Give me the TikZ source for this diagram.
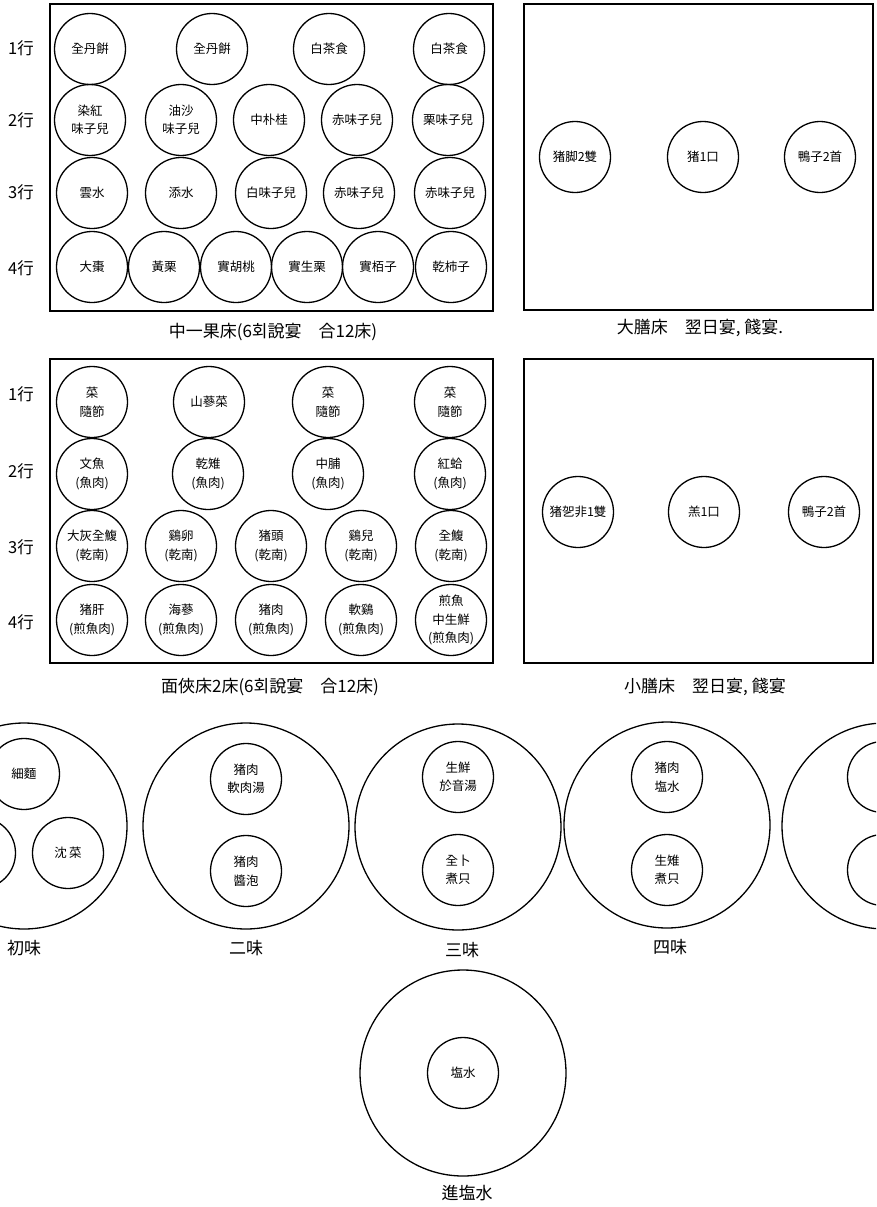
\documentclass[tikz,border=0pt]{standalone}
\usepackage{fontspec}
\setmainfont{Noto Sans CJK KR}
\usepackage{tikz}

\begin{document}
\begin{tikzpicture}[x=1pt,y=-1pt,line width=1.3pt,
    dish/.style={circle,draw,minimum size=71pt,inner sep=0pt,align=center,font=\fontsize{12.5}{18.5}\selectfont},
    bowl/.style={circle,draw,minimum size=206pt,inner sep=0pt},
    rowlbl/.style={font=\fontsize{16.5}{18}\selectfont},
    capt/.style={font=\fontsize{17}{20}\selectfont}]
  \useasboundingbox (0,0) rectangle (876,1207);
  \clip (0,0) rectangle (876,1207);

  % 中一果床
  \draw[line width=1.6pt] (50,4) rectangle (493,311);
  \node[rowlbl] (gr1) at (21,48) {1行};
  \node[rowlbl] (gr2) at (21,120) {2行};
  \node[rowlbl] (gr3) at (21,192) {3行};
  \node[rowlbl] (gr4) at (21,268) {4行};
  \node[dish] (g11) at (90,49) {全丹餠};
  \node[dish] (g12) at (212,49) {全丹餠};
  \node[dish] (g13) at (329,49) {白茶食};
  \node[dish] (g14) at (449,49) {白茶食};
  \node[dish] (g21) at (90,120) {染紅\\味子兒};
  \node[dish] (g22) at (181,120) {油沙\\味子兒};
  \node[dish] (g23) at (269,120) {中朴桂};
  \node[dish] (g24) at (357,120) {赤味子兒};
  \node[dish] (g25) at (448,120) {栗味子兒};
  \node[dish] (g31) at (92,193) {雲水};
  \node[dish] (g32) at (181,193) {添水};
  \node[dish] (g33) at (271,193) {白味子兒};
  \node[dish] (g34) at (359,193) {赤味子兒};
  \node[dish] (g35) at (450,193) {赤味子兒};
  \node[dish] (g41) at (92,267) {大棗};
  \node[dish] (g42) at (164,267) {黃栗};
  \node[dish] (g43) at (236,267) {實胡桃};
  \node[dish] (g44) at (307,267) {實生栗};
  \node[dish] (g45) at (378,267) {實栢子};
  \node[dish] (g46) at (451,267) {乾柿子};
  \node[capt] (gcap) at (273,332) {中一果床(6회說宴\quad 合12床)};

  % 大膳床
  \draw[line width=1.6pt] (524,4) rectangle (873,310);
  \node[dish] (dj1) at (575,157) {猪脚2雙};
  \node[dish] (dj2) at (703,157) {猪1口};
  \node[dish] (dj3) at (820,157) {鴨子2首};
  \node[capt] (djcap) at (700,328) {大膳床\quad 翌日宴, 餞宴.};

  % 面俠床
  \draw[line width=1.6pt] (50,359) rectangle (493,663);
  \node[rowlbl] (mr1) at (21,394) {1行};
  \node[rowlbl] (mr2) at (21,471) {2行};
  \node[rowlbl] (mr3) at (21,547) {3行};
  \node[rowlbl] (mr4) at (21,622) {4行};
  \node[dish] (m11) at (92,402) {菜\\隨節};
  \node[dish] (m12) at (209,402) {山蔘菜};
  \node[dish] (m13) at (328,402) {菜\\隨節};
  \node[dish] (m14) at (450,402) {菜\\隨節};
  \node[dish] (m21) at (92,474) {文魚\\(魚肉)};
  \node[dish] (m22) at (208,474) {乾雉\\(魚肉)};
  \node[dish] (m23) at (328,474) {中脯\\(魚肉)};
  \node[dish] (m24) at (450,474) {紅蛤\\(魚肉)};
  \node[dish] (m31) at (92,546) {大灰全鰒\\(乾南)};
  \node[dish] (m32) at (181,546) {鷄卵\\(乾南)};
  \node[dish] (m33) at (271,546) {猪頭\\(乾南)};
  \node[dish] (m34) at (361,546) {鷄兒\\(乾南)};
  \node[dish] (m35) at (451,546) {全鰒\\(乾南)};
  \node[dish] (m41) at (92,620) {猪肝\\(煎魚肉)};
  \node[dish] (m42) at (181,620) {海蔘\\(煎魚肉)};
  \node[dish] (m43) at (271,620) {猪肉\\(煎魚肉)};
  \node[dish] (m44) at (361,620) {軟鷄\\(煎魚肉)};
  \node[dish] (m45) at (451,620) {煎魚\\中生鮮\\(煎魚肉)};
  \node[capt] (mcap) at (270,687) {面俠床2床(6회說宴\quad 合12床)};

  % 小膳床
  \draw[line width=1.6pt] (524,359) rectangle (873,663);
  \node[dish] (sj1) at (578,512) {猪乫非1雙};
  \node[dish] (sj2) at (704,512) {羔1口};
  \node[dish] (sj3) at (824,512) {鴨子2首};
  \node[capt] (sjcap) at (705,687) {小膳床\quad 翌日宴, 餞宴};

  % 初味 ~ 五味
  \node[bowl] (t1) at (24,826) {};
  \node[dish] (t1a) at (24,774) {細麵};
  \node[dish] (t1b) at (-20,853) {};
  \node[dish] (t1c) at (68,853) {沈\,菜};
  \node[capt] (t1cap) at (24,948) {初味};
  \node[bowl] (t2) at (246,826) {};
  \node[dish] (t2a) at (246,779) {猪肉\\軟肉湯};
  \node[dish] (t2b) at (246,871) {猪肉\\醬泡};
  \node[capt] (t2cap) at (246,948) {二味};
  \node[bowl] (t3) at (458,827) {};
  \node[dish] (t3a) at (458,777) {生鮮\\於音湯};
  \node[dish] (t3b) at (458,870) {全卜\\煮只};
  \node[capt] (t3cap) at (462,950) {三味};
  \node[bowl] (t4) at (667,825) {};
  \node[dish] (t4a) at (667,777) {猪肉\\塩水};
  \node[dish] (t4b) at (667,870) {生雉\\煮只};
  \node[capt] (t4cap) at (670,947) {四味};
  \node[bowl] (t5) at (885,826) {};
  \node[dish] (t5a) at (883,777) {};
  \node[dish] (t5b) at (883,870) {};

  % 進塩水
  \node[bowl] (ts) at (463,1073) {};
  \node[dish] (tsa) at (463,1073) {塩水};
  \node[capt] (tscap) at (467,1193) {進塩水};
\end{tikzpicture}
\end{document}
